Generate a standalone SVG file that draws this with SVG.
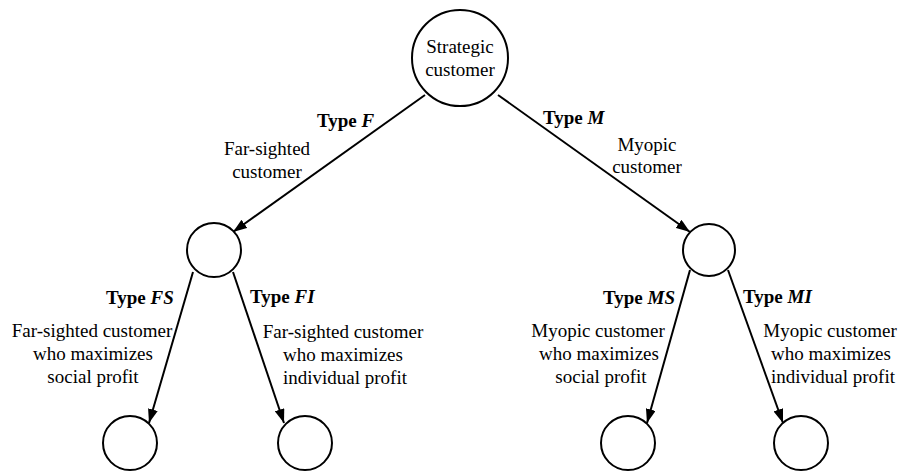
<svg xmlns="http://www.w3.org/2000/svg" width="899" height="473" viewBox="0 0 899 473">
<style>
.node{fill:#fff;stroke:#000;stroke-width:2}
.edge{fill:none;stroke:#000;stroke-width:2;marker-end:url(#arr)}
text{font-family:"Liberation Serif","Times New Roman",serif;font-size:19px;fill:#000}
.c{text-anchor:middle}
.b{font-weight:bold}
.bi{font-weight:bold;font-style:italic}
</style>
<defs>
<marker id="arr" markerUnits="userSpaceOnUse" markerWidth="15" markerHeight="10" refX="14" refY="5" orient="auto">
<path d="M0,0 L14,5 L0,10 z" fill="#000"/>
</marker>
</defs>
<rect width="899" height="473" fill="#fff"/>
<g id="connectors">
<path class="edge" d="M425,95 L233,232"/>
<path class="edge" d="M498,95 L690,232"/>
<path class="edge" d="M193,272 L149,423"/>
<path class="edge" d="M233,272 L284,423"/>
<path class="edge" d="M690,270 L647,423"/>
<path class="edge" d="M728,270 L783,423"/>
</g>
<g id="root">
<circle class="node" cx="460" cy="58" r="48"/>
<text class="c" x="460" y="53">Strategic</text>
<text class="c" x="460" y="76">customer</text>
</g>
<g id="nodeF"><circle class="node" cx="214" cy="250" r="27"/></g>
<g id="nodeM"><circle class="node" cx="709" cy="250" r="26"/></g>
<g id="nodeFS"><circle class="node" cx="130" cy="443" r="27"/></g>
<g id="nodeFI"><circle class="node" cx="305" cy="443" r="27"/></g>
<g id="nodeMS"><circle class="node" cx="628" cy="443" r="27"/></g>
<g id="nodeMI"><circle class="node" cx="801" cy="443" r="27"/></g>
<g id="labels">
<text x="317" y="127" class="b">Type <tspan class="bi">F</tspan></text>
<text class="c" x="267" y="155">Far-sighted</text>
<text class="c" x="267" y="178">customer</text>
<text x="543" y="124" class="b">Type <tspan class="bi">M</tspan></text>
<text class="c" x="647" y="151">Myopic</text>
<text class="c" x="647" y="173">customer</text>
<text x="106" y="304" class="b">Type <tspan class="bi">FS</tspan></text>
<text class="c" x="92" y="337">Far-sighted customer</text>
<text class="c" x="93" y="360">who maximizes</text>
<text class="c" x="93" y="383">social profit</text>
<text x="250" y="303" class="b">Type <tspan class="bi">FI</tspan></text>
<text class="c" x="343" y="338">Far-sighted customer</text>
<text class="c" x="343" y="361">who maximizes</text>
<text class="c" x="345" y="384">individual profit</text>
<text x="603" y="304" class="b">Type <tspan class="bi">MS</tspan></text>
<text class="c" x="598" y="337">Myopic customer</text>
<text class="c" x="599" y="360">who maximizes</text>
<text class="c" x="601" y="383">social profit</text>
<text x="743" y="303" class="b">Type <tspan class="bi">MI</tspan></text>
<text class="c" x="830" y="337">Myopic customer</text>
<text class="c" x="831" y="360">who maximizes</text>
<text class="c" x="833" y="383">individual profit</text>
</g>
</svg>
